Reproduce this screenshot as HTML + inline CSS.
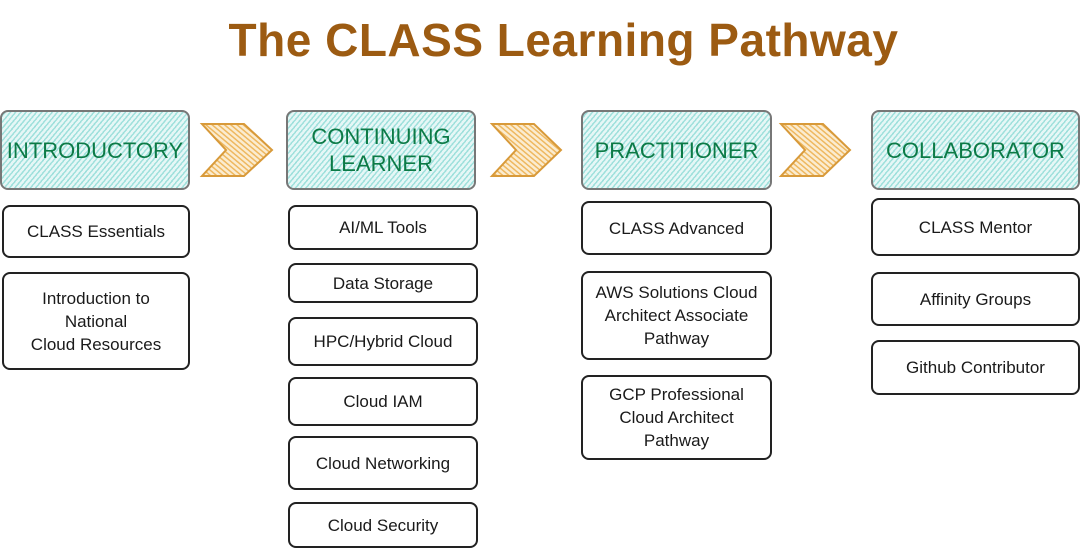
<!DOCTYPE html>
<html><head><style>
body{margin:0;width:1081px;height:549px;background:#fff;position:relative;overflow:hidden;font-family:"Liberation Sans",sans-serif}
.t{position:absolute;left:0;width:1127px;top:13px;text-align:center;font-size:46px;font-weight:bold;color:#9c5b12;letter-spacing:0.5px}
.h{position:absolute;border:2px solid #777;border-radius:8px;box-sizing:border-box;display:flex;align-items:center;justify-content:center;text-align:center;color:#0c7a46;font-size:22px;line-height:27px;
background:repeating-linear-gradient(-50deg,#9fe0dc 0 1.5px,#e6f7f6 1.5px 4px)}
.b{position:absolute;border:2px solid #222;border-radius:8px;box-sizing:border-box;display:flex;align-items:center;justify-content:center;text-align:center;color:#1a1a1a;font-size:17px;line-height:23px;background:#fff}
svg{position:absolute}
</style></head><body>
<div class="t">The CLASS Learning Pathway</div>
<div class="h" style="left:0;top:110px;width:190px;height:80px">INTRODUCTORY</div>
<div class="h" style="left:286px;top:110px;width:190px;height:80px">CONTINUING<br>LEARNER</div>
<div class="h" style="left:581px;top:110px;width:191px;height:80px">PRACTITIONER</div>
<div class="h" style="left:871px;top:110px;width:209px;height:80px">COLLABORATOR</div>
<svg width="1081" height="549" style="left:0;top:0">
<defs><pattern id="p" width="4" height="4" patternUnits="userSpaceOnUse" patternTransform="rotate(-50)"><rect width="4" height="4" fill="#fbecd0"/><rect width="1.5" height="4" fill="#eeb860"/></pattern></defs>
<g fill="url(#p)" stroke="#d89a3a" stroke-width="2">
<polygon points="202,124 244,124 272,150 244,176 202,176 226,150"/>
<polygon points="492,124 534,124 561,150 534,176 492,176 516,150"/>
<polygon points="781,124 823,124 850,150 823,176 781,176 805,150"/>
</g></svg>
<div class="b" style="left:2px;top:205px;width:188px;height:53px">CLASS Essentials</div>
<div class="b" style="left:2px;top:272px;width:188px;height:98px">Introduction to<br>National<br>Cloud Resources</div>
<div class="b" style="left:288px;top:205px;width:190px;height:45px">AI/ML Tools</div>
<div class="b" style="left:288px;top:263px;width:190px;height:40px">Data Storage</div>
<div class="b" style="left:288px;top:317px;width:190px;height:49px">HPC/Hybrid Cloud</div>
<div class="b" style="left:288px;top:377px;width:190px;height:49px">Cloud IAM</div>
<div class="b" style="left:288px;top:436px;width:190px;height:54px">Cloud Networking</div>
<div class="b" style="left:288px;top:502px;width:190px;height:46px">Cloud Security</div>
<div class="b" style="left:581px;top:201px;width:191px;height:54px">CLASS Advanced</div>
<div class="b" style="left:581px;top:271px;width:191px;height:89px">AWS Solutions Cloud<br>Architect Associate<br>Pathway</div>
<div class="b" style="left:581px;top:375px;width:191px;height:85px">GCP Professional<br>Cloud Architect<br>Pathway</div>
<div class="b" style="left:871px;top:198px;width:209px;height:58px">CLASS Mentor</div>
<div class="b" style="left:871px;top:272px;width:209px;height:54px">Affinity Groups</div>
<div class="b" style="left:871px;top:340px;width:209px;height:55px">Github Contributor</div>
</body></html>
